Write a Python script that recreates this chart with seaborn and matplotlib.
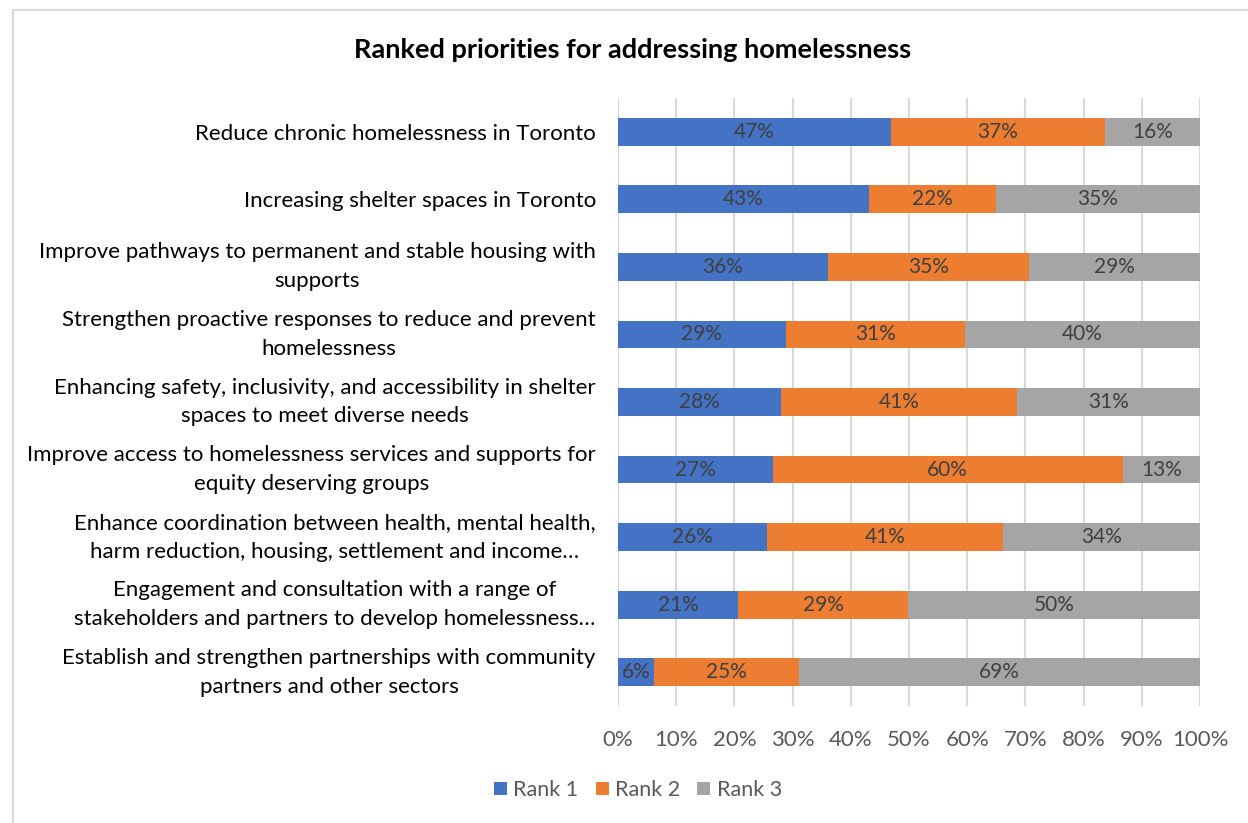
import matplotlib
matplotlib.use("Agg")
import matplotlib.pyplot as plt
from matplotlib.patches import Patch, Rectangle
import numpy as np
import pandas as pd
import seaborn as sns

# Priorities, listed top to bottom
priorities = [
    "Reduce chronic homelessness in Toronto",
    "Increasing shelter spaces in Toronto",
    "Improve pathways to permanent and stable housing with\nsupports",
    "Strengthen proactive responses to reduce and prevent\nhomelessness",
    "Enhancing safety, inclusivity, and accessibility in shelter\nspaces to meet diverse needs",
    "Improve access to homelessness services and supports for\nequity deserving groups",
    "Enhance coordination between health, mental health,\nharm reduction, housing, settlement and income\u2026",
    "Engagement and consultation with a range of\nstakeholders and partners to develop homelessness\u2026",
    "Establish and strengthen partnerships with community\npartners and other sectors",
]

# Share of respondents (%) placing each priority at each rank
rank1 = [46.9, 43.1, 36.1, 28.8, 28.0, 26.6, 25.6, 20.7, 6.2]
rank2 = [36.8, 21.8, 34.6, 30.8, 40.6, 60.1, 40.6, 29.1, 24.9]
rank3 = [16.3, 35.1, 29.3, 40.4, 31.4, 13.3, 33.8, 50.2, 68.9]

series_names = ["Rank 1", "Rank 2", "Rank 3"]
series_colors = ["#4472C4", "#ED7D31", "#A5A5A5"]
x_ticks = [0, 10, 20, 30, 40, 50, 60, 70, 80, 90, 100]

FONT = "Lato"

df = pd.DataFrame({"priority": priorities, "Rank 1": rank1, "Rank 2": rank2, "Rank 3": rank3})
df["cum1"] = df["Rank 1"]
df["cum2"] = df["Rank 1"] + df["Rank 2"]
df["cum3"] = df["cum2"] + df["Rank 3"]

sns.set_theme(style="white")
plt.rcParams["font.family"] = [FONT, "DejaVu Sans"]

fig = plt.figure(figsize=(12.48, 8.23), dpi=100)
ax = fig.add_axes([618 / 1248, 1 - 706 / 823, 582 / 1248, 608 / 823])

# Chart frame
fig.patches.append(Rectangle((13 / 1248, -0.05), 1.2, 1.05 - 10 / 823,
                             transform=fig.transFigure, fill=False,
                             edgecolor="#D9D9D9", linewidth=1.5, zorder=0))

# Stacked bars: draw cumulative totals from the back to the front
bar_w = 0.41
for cum_col, color in zip(["cum3", "cum2", "cum1"], series_colors[::-1]):
    sns.barplot(data=df, y="priority", x=cum_col, order=priorities, orient="h",
                color=color, width=bar_w, saturation=1, ax=ax, zorder=3,
                linewidth=0)

# Segment value labels
for i, row in df.iterrows():
    starts = [0, row["cum1"], row["cum2"]]
    vals = [row["Rank 1"], row["Rank 2"], row["Rank 3"]]
    for s, v in zip(starts, vals):
        ax.text(s + v / 2, i, f"{v:.0f}%", ha="center", va="center",
                fontsize=15, color="#404040", zorder=5)

ax.set_xlim(0, 100)
ax.set_ylim(len(priorities) - 0.5, -0.5)
ax.set_xticks(x_ticks)
ax.set_xticklabels([f"{t}%" for t in x_ticks])
ax.set_xlabel("")
ax.set_ylabel("")
ax.grid(axis="x", color="#D9D9D9", linewidth=1.5, zorder=0)
ax.grid(axis="y", visible=False)
ax.set_axisbelow(True)
for sp in ax.spines.values():
    sp.set_visible(False)
ax.tick_params(axis="x", length=0, pad=17, labelsize=16, labelcolor="#595959")
ax.tick_params(axis="y", length=0, pad=16, labelsize=16, labelcolor="#000000")
for lab in ax.get_yticklabels():
    lab.set_multialignment("center")
    lab.set_linespacing(1.55)
    if "\n" in lab.get_text():
        lab.set_verticalalignment("center")

fig.text(633 / 1248, 1 - 50 / 823, "Ranked priorities for addressing homelessness",
         ha="center", va="center", fontsize=19.5, fontweight="bold", color="#000000")

handles = [Patch(facecolor=c, edgecolor="none", label=n) for n, c in zip(series_names, series_colors)]
fig.legend(handles=handles, loc="center", bbox_to_anchor=(638 / 1248, 1 - 790 / 823),
           ncol=3, frameon=False, fontsize=15.5, handlelength=0.6, handleheight=0.6,
           handletextpad=0.3, columnspacing=0.8, labelcolor="#595959")

fig.savefig("out.png", dpi=100, facecolor="white")
